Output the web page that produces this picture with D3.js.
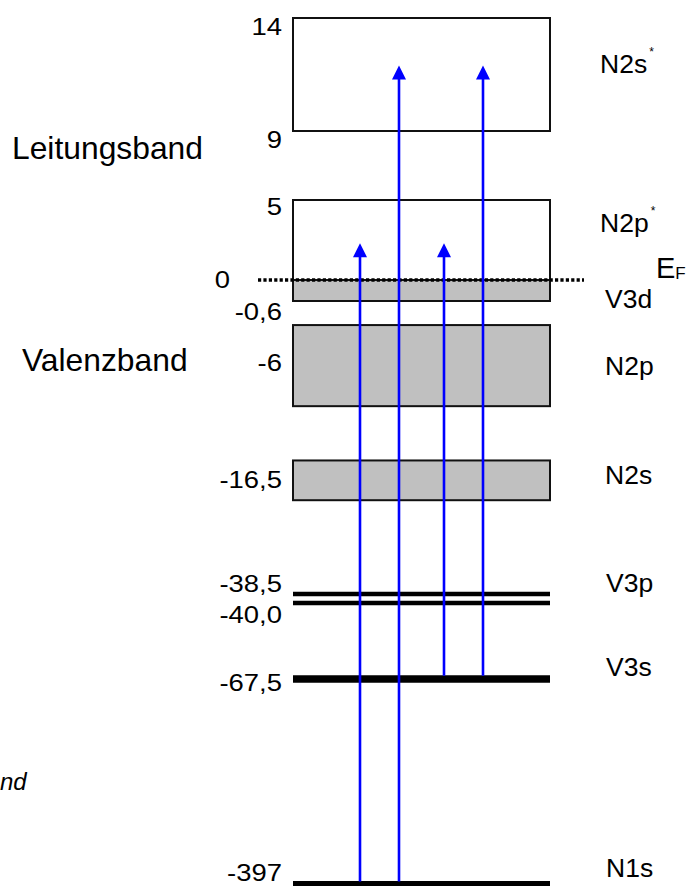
<!DOCTYPE html>
<html>
<head>
<meta charset="utf-8">
<script src="https://cdn.jsdelivr.net/npm/d3@7"></script>
<style>
  html, body { margin: 0; padding: 0; background: #fff; }
  svg { display: block; }
  text { font-family: "Liberation Sans", Arial, sans-serif; fill: #000; }
</style>
</head>
<body>
<svg id="chart" width="691" height="886"></svg>
<script>
// ---------- data ----------
const tickValues = [14, 9, 5, 0, -0.6, -6, -16.5, -38.5, -40.0, -67.5, -397];
const tickLabels = ["14", "9", "5", "0", "-0,6", "-6", "-16,5", "-38,5", "-40,0", "-67,5", "-397"];

const bandNames   = ["N2s*", "N2p*", "V3d", "N2p", "N2s"];
const bandTop     = [14, 5, 0, -2.6, -14.7];
const bandBottom  = [9, 0, -0.6, -9.7, -20.4];
const bandOccupied = [false, false, true, true, true];

const levelNames    = ["V3p", "V3p", "V3s", "N1s"];
const levelEnergies = [-38.5, -40.0, -67.5, -397];

const transSource = ["N1s", "N1s", "V3s", "V3s"];
const transTarget = ["N2p*", "N2s*", "N2p*", "N2s*"];
const transFrom   = [-397, -397, -67.5, -67.5];
const transTo     = [2.3, 11.9, 2.3, 11.9];

const fermiEnergy = 0;
const regionLabels = ["Leitungsband", "Valenzband"];
const cutLabel = "nd";

// ---------- layout ----------
const svg = d3.select("#chart");

// broken (piecewise) energy axis
const y = d3.scaleLinear()
  .domain(tickValues)
  .range([18, 131, 200, 280, 301, 366, 480, 594, 603, 679, 884]);

const x = d3.scaleLinear().domain([0, 1]).range([293, 550]);

const srcX = d3.scalePoint().domain(["N1s", "V3s"]).range([379.5, 463.5]);
const tgtX = d3.scalePoint().domain(["N2p*", "N2s*"]).range([-19.5, 19.5]);

// bands
const bands = bandNames.map((n, i) => ({ name: n, top: bandTop[i], bottom: bandBottom[i], occ: bandOccupied[i] }));
svg.append("g").selectAll("rect").data(bands).join("rect")
  .attr("x", x(0))
  .attr("y", d => y(d.top))
  .attr("width", x(1) - x(0))
  .attr("height", d => y(d.bottom) - y(d.top))
  .attr("fill", d => d.occ ? "#c0c0c0" : "#fff")
  .attr("stroke", "#111")
  .attr("stroke-width", 2);

// discrete levels
const levelWidth = { "V3p": 4.3, "V3s": 7.5, "N1s": 6 };
const levels = levelNames.map((n, i) => ({ name: n, e: levelEnergies[i] }));
svg.append("g").selectAll("line").data(levels).join("line")
  .attr("x1", x(0)).attr("x2", x(1))
  .attr("y1", d => y(d.e)).attr("y2", d => y(d.e))
  .attr("stroke", "#000")
  .attr("stroke-width", d => levelWidth[d.name]);

// Fermi level dotted
svg.append("line")
  .attr("x1", 258).attr("x2", 584)
  .attr("y1", y(fermiEnergy)).attr("y2", y(fermiEnergy))
  .attr("stroke", "#000").attr("stroke-width", 3.4)
  .attr("stroke-dasharray", "3.2,2.2");

// transitions (arrows)
const trans = transSource.map((s, i) => ({ s, t: transTarget[i], from: transFrom[i], to: transTo[i] }));
const blue = "#0000ff";
const gA = svg.append("g");
trans.forEach(d => {
  const ax = srcX(d.s) + tgtX(d.t);
  const y0 = y(d.from) - levelWidth[d.s] / 2 + 0.5;
  const yTip = y(d.to);
  gA.append("line")
    .attr("x1", ax).attr("x2", ax)
    .attr("y1", y0).attr("y2", yTip + 12)
    .attr("stroke", blue).attr("stroke-width", 2.6);
  gA.append("path")
    .attr("d", `M${ax},${yTip} L${ax - 7},${yTip + 14} L${ax + 7},${yTip + 14} Z`)
    .attr("fill", blue);
});

// tick labels (energies)
const tickNudge = { "14": 17, "9": 17, "5": 15, "0": 8, "-0,6": 19, "-6": 5, "-16,5": 8, "-38,5": -2, "-40,0": 20, "-67,5": 12, "-397": -3 };
const tickRight = { "0": 230 };
const gT = svg.append("g");
tickLabels.forEach((lab, i) => {
  const tx = tickRight[lab] !== undefined ? tickRight[lab] : 282;
  gT.append("text")
    .attr("transform", `translate(${tx},${y(tickValues[i]) + tickNudge[lab]}) scale(1.12,1)`)
    .attr("text-anchor", "end")
    .style("font-size", "24.5px")
    .text(lab);
});

// right-side labels
const rightLabels = [
  { base: "N2s", star: true, yy: 73, xx: 600 },
  { base: "N2p", star: true, yy: 232, xx: 600 },
  { base: "V3d", star: false, yy: 308, xx: 605 },
  { base: "N2p", star: false, yy: 375, xx: 605 },
  { base: "N2s", star: false, yy: 484, xx: 605 },
  { base: "V3p", star: false, yy: 592, xx: 606 },
  { base: "V3s", star: false, yy: 676, xx: 606 },
  { base: "N1s", star: false, yy: 877, xx: 606 }
];
const gR = svg.append("g");
rightLabels.forEach(d => {
  const t = gR.append("text")
    .attr("x", d.xx).attr("y", d.yy)
    .style("font-size", "26.5px");
  t.append("tspan").text(d.base);
  if (d.star) {
    t.append("tspan").attr("dx", 2).attr("dy", -17).style("font-size", "12px").text("*");
  }
});

// E_F label
const ef = svg.append("text").attr("x", 656).attr("y", 278).style("font-size", "29px");
ef.append("tspan").text("E");
ef.append("tspan").attr("dy", 1).style("font-size", "17px").text("F");

// region labels
svg.append("text").attr("x", 12).attr("y", 159).style("font-size", "31.8px").text(regionLabels[0]);
svg.append("text").attr("x", 22).attr("y", 371).style("font-size", "31.8px").text(regionLabels[1]);

// italic label at left edge (only its end is visible in the reference)
svg.append("text").attr("x", 0).attr("y", 790)
  .style("font-size", "24px").style("font-style", "italic").text(cutLabel);
</script>
</body>
</html>
